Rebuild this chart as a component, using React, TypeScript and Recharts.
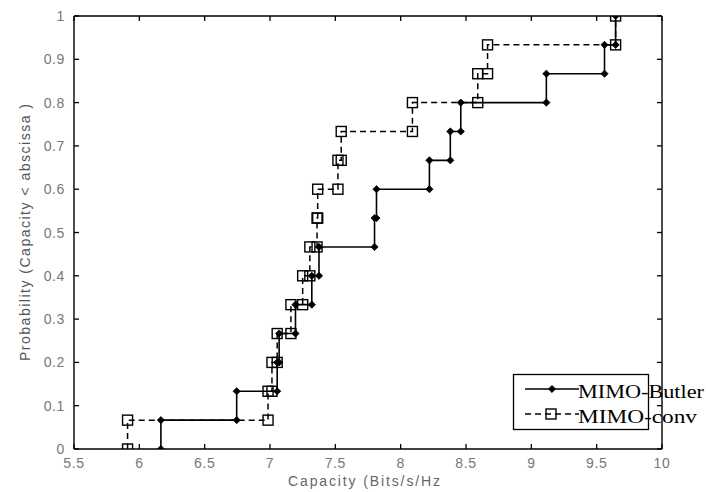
import React from 'react'
import { ScatterChart, Scatter, XAxis, YAxis, Legend } from 'recharts'

// sorted capacity samples (bits/s/Hz) for each array type
const BUTLER_CAPACITY = [6.165, 6.745, 7.055, 7.07, 7.195, 7.32, 7.375, 7.8, 7.815, 8.22, 8.38, 8.46, 9.115, 9.56, 9.645]
const CONV_CAPACITY = [5.91, 6.985, 7.015, 7.055, 7.16, 7.25, 7.305, 7.36, 7.365, 7.52, 7.545, 8.09, 8.59, 8.665, 9.645]

const X_TICKS = [5.5, 6, 6.5, 7, 7.5, 8, 8.5, 9, 9.5, 10]
const Y_TICKS = [0, 0.1, 0.2, 0.3, 0.4, 0.5, 0.6, 0.7, 0.8, 0.9, 1]

const SERIES_NAMES = ['MIMO-Butler', 'MIMO-conv']

// empirical CDF as stairs: every sample gives a rise of 1/n
function toStairs(samples: number[]) {
  const n = samples.length
  return samples.flatMap((x, i) => [
    { x, p: i / n },
    { x, p: (i + 1) / n },
  ])
}

const butlerPts = toStairs(BUTLER_CAPACITY)
const convPts = toStairs(CONV_CAPACITY)

const TICK_COLOR = '#777'
const FONT = 'Arial, "Liberation Sans", sans-serif'

function Diamond({ cx, cy }: any) {
  const r = 3.6
  return (
    <path
      d={`M${cx},${cy - r}L${cx + r},${cy}L${cx},${cy + r}L${cx - r},${cy}Z`}
      fill="#000"
      stroke="#000"
      strokeWidth={0.8}
    />
  )
}

function OpenSquare({ cx, cy }: any) {
  return <rect x={cx - 5} y={cy - 5} width={10} height={10} fill="none" stroke="#000" strokeWidth={1.4} />
}

// ticks point into the plot box, as in a MATLAB figure
function BottomTick({ x, y, payload }: any) {
  return (
    <g>
      <line x1={x} y1={y} x2={x} y2={y - 5} stroke="#000" strokeWidth={1.3} />
      <text x={x} y={y + 19} textAnchor="middle" fill={TICK_COLOR} fontSize={14} fontFamily={FONT} letterSpacing={0.6}>
        {payload.value}
      </text>
    </g>
  )
}

function LeftTick({ x, y, payload }: any) {
  return (
    <g>
      <line x1={x} y1={y} x2={x + 5} y2={y} stroke="#000" strokeWidth={1.3} />
      <text x={x - 9} y={y + 5} textAnchor="end" fill={TICK_COLOR} fontSize={14} fontFamily={FONT} letterSpacing={0.6}>
        {payload.value}
      </text>
    </g>
  )
}

function TopTick({ x, y }: any) {
  return <line x1={x} y1={y} x2={x} y2={y + 5} stroke="#000" strokeWidth={1.3} />
}

function RightTick({ x, y }: any) {
  return <line x1={x} y1={y} x2={x - 5} y2={y} stroke="#000" strokeWidth={1.3} />
}

function XTitle({ viewBox }: any) {
  const { x, y, width } = viewBox
  return (
    <text x={x + width / 2 - 4} y={y + 37} textAnchor="middle" fill="#666" fontSize={14} fontFamily={FONT} textLength={152}>
      Capacity  (Bits/s/Hz
    </text>
  )
}

function YTitle({ viewBox }: any) {
  const { x, y, height } = viewBox
  const cx = x - 4
  const cy = y + height / 2
  return (
    <text
      x={cx}
      y={cy}
      transform={`rotate(-90 ${cx} ${cy})`}
      textAnchor="middle"
      fill="#555"
      fontSize={14}
      fontFamily={FONT}
      textLength={257}
    >
      Probability (Capacity &lt; abscissa )
    </text>
  )
}

function LegendBox({ payload }: any) {
  const items = [...(payload || [])].sort(
    (a: any, b: any) => SERIES_NAMES.indexOf(a.value) - SERIES_NAMES.indexOf(b.value)
  )
  return (
    <svg width={193} height={60} style={{ overflow: 'visible', display: 'block' }}>
      <rect x={0.5} y={0.5} width={135} height={55} fill="#fff" stroke="#000" strokeWidth={1.3} />
      {items.map((item: any, i: number) => {
        const rowY = i === 0 ? 15 : 40
        const dashed = item.value === 'MIMO-conv'
        return (
          <g key={item.value}>
            <line
              x1={12}
              y1={rowY}
              x2={66}
              y2={rowY}
              stroke="#000"
              strokeWidth={1.5}
              strokeDasharray={dashed ? '6 4' : undefined}
            />
            {dashed ? <OpenSquare cx={38} cy={rowY} /> : <Diamond cx={39} cy={rowY} />}
            <text
              x={65}
              y={rowY + 9}
              fill="#000"
              fontSize={18}
              fontFamily='"Liberation Serif", "Times New Roman", serif'
              textLength={dashed ? 119 : 126}
              lengthAdjust="spacingAndGlyphs"
            >
              {item.value}
            </text>
          </g>
        )
      })}
    </svg>
  )
}

export default function App() {
  return (
    <div style={{ width: 706, height: 492, position: 'absolute', left: 0, top: 0 }}>
      <ScatterChart width={706} height={492} margin={{ top: 14, right: 34, bottom: 3, left: 34 }}>
        <XAxis
          xAxisId="bottom"
          dataKey="x"
          type="number"
          domain={[5.5, 10]}
          ticks={X_TICKS}
          allowDataOverflow
          height={40}
          tickSize={0}
          tickMargin={0}
          tickLine={false}
          tick={<BottomTick />}
          axisLine={{ stroke: '#000', strokeWidth: 1.4 }}
          label={<XTitle />}
        />
        <XAxis
          xAxisId="top"
          orientation="top"
          dataKey="x"
          type="number"
          domain={[5.5, 10]}
          ticks={X_TICKS}
          allowDataOverflow
          height={2}
          tickSize={0}
          tickMargin={0}
          tickLine={false}
          tick={<TopTick />}
          axisLine={{ stroke: '#000', strokeWidth: 1.4 }}
        />
        <YAxis
          yAxisId="left"
          dataKey="p"
          type="number"
          domain={[0, 1]}
          ticks={Y_TICKS}
          allowDataOverflow
          width={40}
          tickSize={0}
          tickMargin={0}
          tickLine={false}
          tick={<LeftTick />}
          axisLine={{ stroke: '#000', strokeWidth: 1.4 }}
          label={<YTitle />}
        />
        <YAxis
          yAxisId="right"
          orientation="right"
          dataKey="p"
          type="number"
          domain={[0, 1]}
          ticks={Y_TICKS}
          allowDataOverflow
          width={10}
          tickSize={0}
          tickMargin={0}
          tickLine={false}
          tick={<RightTick />}
          axisLine={{ stroke: '#000', strokeWidth: 1.4 }}
        />
        <Scatter
          name="MIMO-Butler"
          data={butlerPts}
          xAxisId="bottom"
          yAxisId="left"
          line={{ stroke: '#000', strokeWidth: 1.6 }}
          shape={<Diamond />}
          fill="#000"
          isAnimationActive={false}
        />
        <Scatter
          name="MIMO-conv"
          data={convPts}
          xAxisId="top"
          yAxisId="right"
          line={{ stroke: '#000', strokeWidth: 1.5, strokeDasharray: '6 4' }}
          shape={<OpenSquare />}
          fill="#000"
          isAnimationActive={false}
        />
        <Legend
          layout="vertical"
          align="center"
          verticalAlign="middle"
          content={<LegendBox />}
          wrapperStyle={{ left: 513, top: 374, width: 193, height: 60 }}
        />
      </ScatterChart>
    </div>
  )
}
